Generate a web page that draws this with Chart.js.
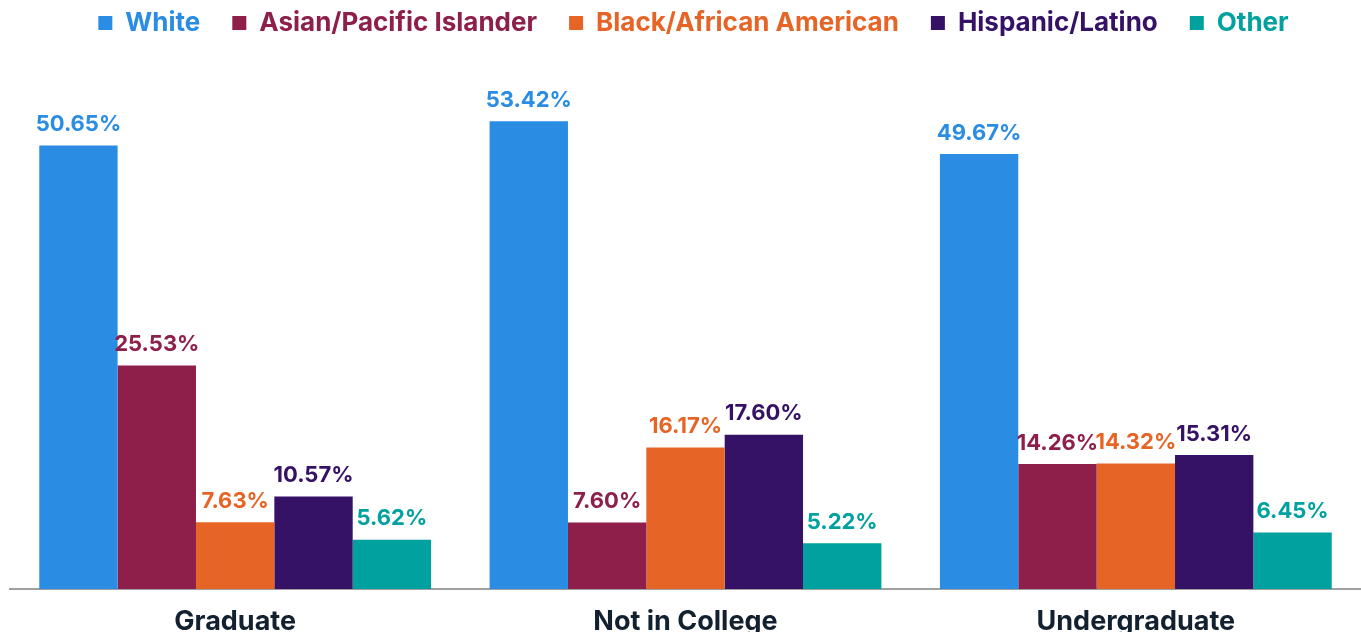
<!DOCTYPE html>
<html>
<head>
<meta charset="utf-8">
<script src="https://cdn.jsdelivr.net/npm/chart.js@4"></script>
<style>
  html, body { margin: 0; padding: 0; background: #ffffff; }
  #wrap { width: 1361px; height: 632px; }
</style>
</head>
<body>
<div id="wrap"><canvas id="chart"></canvas></div>
<script>
// categories and series
const categories = ['Graduate', 'Not in College', 'Undergraduate'];
const white = [50.65, 53.42, 49.67];
const asian = [25.53, 7.60, 14.26];
const black = [7.63, 16.17, 14.32];
const hispanic = [10.57, 17.60, 15.31];
const other = [5.62, 5.22, 6.45];

const seriesNames = ['White', 'Asian/Pacific Islander', 'Black/African American', 'Hispanic/Latino', 'Other'];
const seriesColors = ['#2a8ce3', '#8e1f4b', '#e66526', '#361266', '#00a19f'];
const seriesValues = [white, asian, black, hispanic, other];

const fontFamily = 'Inter, "Open Sans", sans-serif';

// draws the value above each bar
const valueLabels = {
    id: 'valueLabels',
    afterDatasetsDraw(chart) {
        const ctx = chart.ctx;
        ctx.save();
        ctx.font = 'bold 22px ' + fontFamily;
        ctx.textAlign = 'center';
        ctx.textBaseline = 'bottom';
        chart.data.datasets.forEach((ds, i) => {
            chart.getDatasetMeta(i).data.forEach((bar, j) => {
                ctx.fillStyle = ds.backgroundColor;
                ctx.fillText(ds.data[j].toFixed(2) + '%', bar.x, bar.y - 10);
            });
        });
        ctx.restore();
    }
};

// nudge the legend a little to the right
const legendShift = {
    id: 'legendShift',
    afterLayout(chart) {
        if (chart.legend) {
            chart.legend.left += 8;
            chart.legend.right += 8;
        }
    }
};

new Chart(document.getElementById('chart'), {
    type: 'bar',
    data: {
        labels: categories,
        datasets: seriesNames.map((name, i) => ({
            label: name,
            data: seriesValues[i],
            backgroundColor: seriesColors[i],
            barPercentage: 1,
            categoryPercentage: 0.87
        }))
    },
    options: {
        responsive: true,
        maintainAspectRatio: false,
        animation: false,
        layout: { padding: { left: 10, right: 0, top: -22, bottom: 0 } },
        plugins: {
            legend: {
                position: 'top',
                labels: {
                    boxWidth: 14,
                    boxHeight: 14,
                    padding: 32,
                    font: { size: 26, weight: 'bold', family: fontFamily },
                    generateLabels(chart) {
                        return chart.data.datasets.map((ds, i) => ({
                            text: ds.label,
                            fillStyle: ds.backgroundColor,
                            strokeStyle: ds.backgroundColor,
                            lineWidth: 0,
                            fontColor: ds.backgroundColor,
                            datasetIndex: i
                        }));
                    }
                }
            },
            tooltip: { enabled: false }
        },
        scales: {
            x: {
                grid: { display: false },
                border: { display: true, color: '#a0a0a0', width: 2 },
                ticks: {
                    color: '#12202f',
                    padding: 11,
                    font: { size: 27, weight: 'bold', family: fontFamily, lineHeight: 1 }
                },
                afterFit(scale) {
                    scale.height = 43;
                }
            },
            y: {
                display: false,
                min: 0,
                max: 62
            }
        }
    },
    plugins: [valueLabels, legendShift]
});
</script>
</body>
</html>
